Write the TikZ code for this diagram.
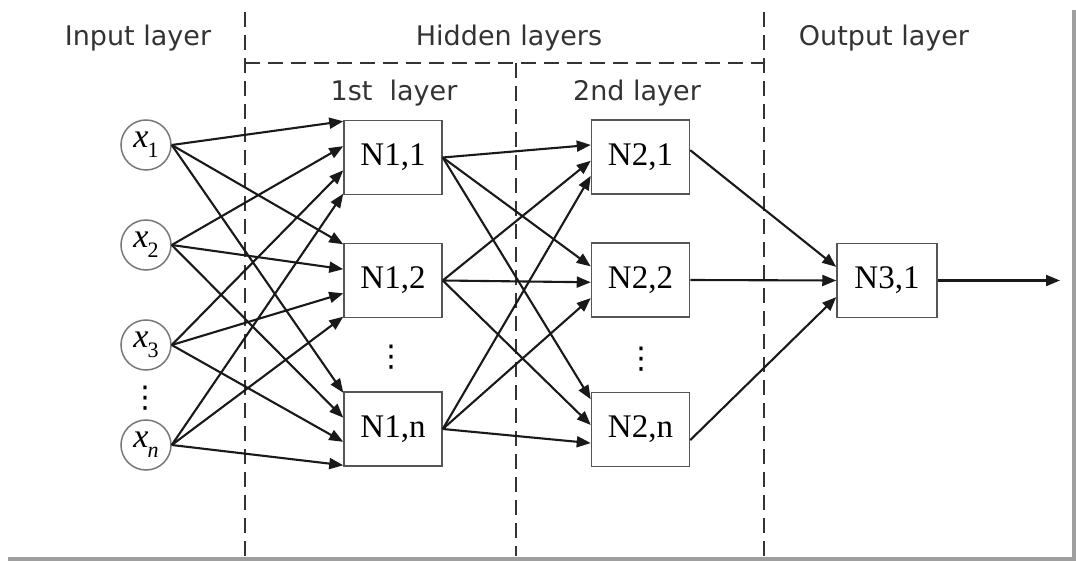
\documentclass[tikz,border=0pt]{standalone}
\usepackage{fontspec}
\setmainfont{Liberation Serif}
\newfontfamily\headfont{DejaVu Sans}
\usetikzlibrary{arrows.meta,calc}
\definecolor{txtgray}{HTML}{333333}
\definecolor{boxgray}{HTML}{555555}
\definecolor{circgray}{HTML}{777777}
\begin{document}
\begin{tikzpicture}[x=0.5pt,y=-0.5pt,
  conn/.style={line width=1.05pt, black!90, -{Triangle[length=7pt,width=5.5pt]}},
  inp/.style={circle, draw=circgray, line width=0.75pt, minimum size=25pt, inner sep=0pt, font=\fontsize{17}{17}\selectfont},
  nbox/.style={rectangle, draw=boxgray, line width=0.75pt, minimum width=49pt, minimum height=37pt, inner sep=0pt, font=\fontsize{16.5}{18}\selectfont},
  divider/.style={dashed, dash pattern=on 7.5pt off 4pt, line width=0.9pt, txtgray},
  head/.style={font=\headfont\fontsize{13.5}{15}\selectfont, text=txtgray, inner sep=0pt},
  vdotsnode/.style={font=\headfont\fontsize{15}{15}\selectfont, inner sep=0pt}
]
\useasboundingbox (0,0) rectangle (1076,561);

% frame shadow
\draw[gray!75, line width=2pt] (8,559) -- (1074,559) -- (1074,10);

% dividers
\draw[divider] (245,12) -- (245,556);
\draw[divider] (764,12) -- (764,556);
\draw[divider] (516,63) -- (516,556);
\draw[divider] (245,63) -- (764,63);

% headings
\node[head] (hin) at (138,38) {Input layer};
\node[head] (hhid) at (509,38) {Hidden layers};
\node[head] (hout) at (884,38) {Output layer};
\node[head] (h1) at (394,93) {1st~~layer};
\node[head] (h2) at (637,93) {2nd layer};

% inputs
\node[inp] (x1) at (146,145) {\textit{x}\kern-0.5pt\raisebox{-0.3em}{\fontsize{11}{11}\selectfont 1}};
\node[inp] (x2) at (146,245) {\textit{x}\kern-0.5pt\raisebox{-0.3em}{\fontsize{11}{11}\selectfont 2}};
\node[inp] (x3) at (146,345) {\textit{x}\kern-0.5pt\raisebox{-0.3em}{\fontsize{11}{11}\selectfont 3}};
\node[inp] (xn) at (146,445) {\textit{x}\kern-0.5pt\raisebox{-0.3em}{\fontsize{11}{11}\selectfont\itshape n}};
\node[vdotsnode] (dx) at (145,398) {⋮};

% first hidden layer
\node[nbox] (n11) at (393,157.5) {N1,1};
\node[nbox] (n12) at (393,280.5) {N1,2};
\node[nbox] (n1n) at (393,429) {N1,n};
\node[vdotsnode] (d1) at (391.5,357) {⋮};

% second hidden layer
\node[nbox] (n21) at (640.5,157) {N2,1};
\node[nbox] (n22) at (640.5,280) {N2,2};
\node[nbox] (n2n) at (640.5,429.5) {N2,n};
\node[vdotsnode] (d2) at (641.5,359) {⋮};

% output
\node[nbox, minimum width=50pt] (n31) at (887,280.5) {N3,1};
\coordinate (out) at (1060,280.5);

% input -> first layer
\foreach \s/\f in {x1/0.02, x2/0.35, x3/0.67, xn/0.98} {
  \foreach \t in {n11,n12,n1n} {
    \draw[conn] (\s.east) -- ($(\t.north west)!\f!(\t.south west)$);
  }
}

% first -> second layer
\draw[conn] (n11.east) -- ($(n21.north west)!0.34!(n21.south west)$);
\draw[conn] (n12.east) -- ($(n21.north west)!0.55!(n21.south west)$);
\draw[conn] (n1n.east) -- ($(n21.north west)!0.75!(n21.south west)$);
\draw[conn] (n11.east) -- ($(n22.north west)!0.32!(n22.south west)$);
\draw[conn] (n12.east) -- ($(n22.north west)!0.53!(n22.south west)$);
\draw[conn] (n1n.east) -- ($(n22.north west)!0.74!(n22.south west)$);
\draw[conn] (n11.east) -- ($(n2n.north west)!0.1!(n2n.south west)$);
\draw[conn] (n12.east) -- ($(n2n.north west)!0.44!(n2n.south west)$);
\draw[conn] (n1n.east) -- ($(n2n.north west)!0.68!(n2n.south west)$);

% second -> output
\draw[conn] ($(n21.north east)!0.41!(n21.south east)$) -- ($(n31.north west)!0.32!(n31.south west)$);
\draw[conn] (n22.east) -- (n31.west);
\draw[conn] ($(n2n.north east)!0.64!(n2n.south east)$) -- ($(n31.north west)!0.72!(n31.south west)$);
\draw[conn] (n31.east) -- (out);
\end{tikzpicture}
\end{document}
